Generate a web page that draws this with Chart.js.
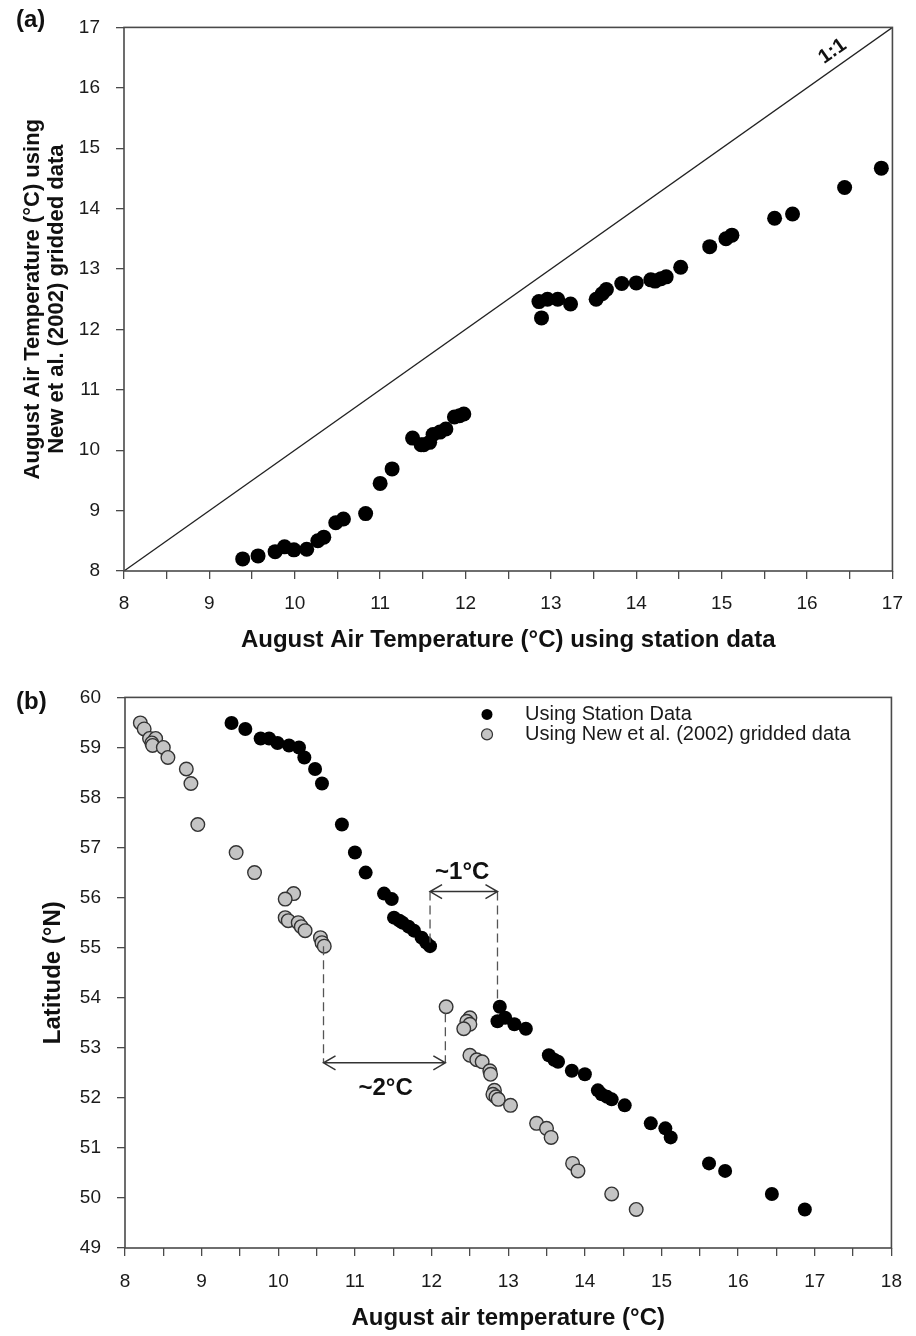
<!DOCTYPE html>
<html><head><meta charset="utf-8">
<script src="https://cdn.jsdelivr.net/npm/chart.js@4.4.1/dist/chart.umd.min.js"></script>
<style>
body{margin:0;background:#fff}
canvas{display:block}
</style></head><body>
<canvas id="chA" width="916" height="670"></canvas>
<canvas id="chB" width="916" height="666"></canvas>
<script>
// One entry per station: August air temp from station data, from New et al. (2002) grid, and latitude
const STN_T=[9.39,9.57,9.77,9.88,9.99,10.14,10.27,10.34,10.48,10.57,10.83,11.00,11.14,11.38,11.48,11.51,11.58,11.62,11.70,11.77,11.87,11.93,11.98,
  12.89,12.96,12.86,13.08,13.23,13.53,13.60,13.65,13.83,14.00,14.17,14.22,14.29,14.35,14.52,14.86,15.05,15.12,15.62,15.83,16.44,16.87];
const GRD_T=[8.20,8.25,8.32,8.40,8.35,8.36,8.50,8.56,8.80,8.86,8.95,9.45,9.69,10.20,10.09,10.09,10.13,10.26,10.30,10.35,10.55,10.57,10.60,
  12.19,12.50,12.46,12.50,12.42,12.50,12.59,12.66,12.76,12.77,12.82,12.80,12.84,12.87,13.03,13.37,13.50,13.56,13.84,13.91,14.35,14.67];
const LAT=[59.49,59.37,59.18,59.18,59.09,59.04,59.00,58.80,58.57,58.28,57.46,56.90,56.50,56.08,55.97,55.60,55.54,55.50,55.42,55.34,55.20,55.10,55.03,
  53.82,53.60,53.53,53.47,53.38,52.85,52.76,52.72,52.54,52.47,52.15,52.07,52.02,51.97,51.85,51.49,51.39,51.21,50.69,50.54,50.08,49.77];

// tick labels
const XT_A=[8,9,10,11,12,13,14,15,16,17];
const YT_A=[8,9,10,11,12,13,14,15,16,17];
const XT_B=[8,9,10,11,12,13,14,15,16,17,18];
const YT_B=[49,50,51,52,53,54,55,56,57,58,59,60];

// 1:1 line ends and where its label sits
const ONE2ONE=[8,17];
const ONE2ONE_LBL=16.4;

// panel (b) annotations: [x1,x2,lat] arrows, [x,latTop,latBottom] dashed drops, [text,x,lat] labels
const ARROWS=[[11.98,12.86,56.12],[10.59,12.18,52.70]];
const DROPS=[[11.98,56.12,55.03],[12.86,56.12,53.88],[10.59,55.03,52.70],[12.18,53.69,52.70]];
const NOTES=[["~1°C",12.40,56.50],["~2°C",11.40,52.19]];

const FONT="'Liberation Sans',Arial,Helvetica,sans-serif";
Chart.defaults.font.family=FONT;
Chart.defaults.color="#1a1a1a";

const frame={id:"frame",afterDraw(c){const a=c.chartArea,x=c.ctx;x.save();x.strokeStyle="#4a4a4a";x.lineWidth=1.6;x.strokeRect(a.left,a.top,a.right-a.left,a.bottom-a.top);x.restore()}};
function tag(t,y){return{id:"tag"+t,afterDraw(c){const x=c.ctx;x.save();x.font="bold 24px "+FONT;x.fillStyle="#111";x.textBaseline="middle";x.fillText(t,16,y);x.restore()}}}

const oneLbl={id:"oneLbl",afterDraw(c){
  const sx=c.scales.x,sy=c.scales.y,x=c.ctx;
  const ang=Math.atan2(sy.getPixelForValue(ONE2ONE[1])-sy.getPixelForValue(ONE2ONE[0]),sx.getPixelForValue(ONE2ONE[1])-sx.getPixelForValue(ONE2ONE[0]));
  x.save();x.translate(sx.getPixelForValue(ONE2ONE_LBL),sy.getPixelForValue(ONE2ONE_LBL));x.rotate(ang);
  x.font="bold 20px "+FONT;x.fillStyle="#111";x.textAlign="center";x.textBaseline="middle";x.fillText("1:1",0,-15);x.restore()}};

const notes={id:"notes",afterDatasetsDraw(c){
  const sx=c.scales.x,sy=c.scales.y,x=c.ctx;
  x.save();
  // dashed drop lines
  x.strokeStyle="#555";x.lineWidth=1.3;x.setLineDash([9,5]);
  DROPS.forEach(([v,a,b])=>{const px=sx.getPixelForValue(v);x.beginPath();x.moveTo(px,sy.getPixelForValue(a));x.lineTo(px,sy.getPixelForValue(b));x.stroke()});
  // double arrows
  x.setLineDash([]);x.strokeStyle="#333";x.lineWidth=1.5;
  ARROWS.forEach(([a,b,l])=>{const p1=sx.getPixelForValue(a),p2=sx.getPixelForValue(b),py=sy.getPixelForValue(l);
    x.beginPath();x.moveTo(p1,py);x.lineTo(p2,py);
    [[p1,1],[p2,-1]].forEach(([p,d])=>{x.moveTo(p+d*12,py-7);x.lineTo(p,py);x.lineTo(p+d*12,py+7)});x.stroke()});
  x.font="bold 24px "+FONT;x.fillStyle="#111";x.textAlign="center";x.textBaseline="middle";
  NOTES.forEach(([t,v,l])=>x.fillText(t,sx.getPixelForValue(v),sy.getPixelForValue(l)));
  x.restore()}};

const leg={id:"leg",afterDraw(c){
  const a=c.chartArea,x=c.ctx;x.save();x.font="20px "+FONT;x.textBaseline="middle";
  c.data.datasets.forEach((d,i)=>{const cx=a.left+362,cy=a.top+17+i*20;
    x.beginPath();x.arc(cx,cy,5.5,0,Math.PI*2);x.fillStyle=d.backgroundColor;x.fill();
    if(d.borderWidth){x.lineWidth=1.2;x.strokeStyle=d.borderColor;x.stroke()}
    x.fillStyle="#1a1a1a";x.fillText(d.label,cx+38,cy)});
  x.restore()}};

function gridOpt(){return{drawOnChartArea:false,tickLength:8,color:"#4a4a4a",lineWidth:1.3}}
function tickOpt(list,step,pad){return{stepSize:step,autoSkip:false,maxRotation:0,padding:pad,font:{size:19},color:"#1a1a1a",callback:v=>list.includes(v)?v:""}}

new Chart(document.getElementById("chA"),{type:"scatter",
  data:{datasets:[
    {label:"Stations",data:STN_T.map((v,i)=>({x:v,y:GRD_T[i]})),pointRadius:7.5,pointHoverRadius:7.5,backgroundColor:"#000",borderColor:"#000",borderWidth:0},
    {label:"1:1",type:"line",data:ONE2ONE.map(v=>({x:v,y:v})),borderColor:"#222",borderWidth:1.3,pointRadius:0}
  ]},
  options:{responsive:false,animation:false,devicePixelRatio:1,
    layout:{padding:{top:17,right:23,left:0,bottom:0}},
    plugins:{legend:{display:false},tooltip:{enabled:false}},
    scales:{
      x:{type:"linear",min:8,max:17,afterFit:s=>{s.height=99},ticks:tickOpt(XT_A,0.5,13),grid:gridOpt(),border:{display:false},
        title:{display:true,text:"August Air Temperature (°C) using station data",color:"#111",font:{size:24,weight:"bold",lineHeight:1},padding:{top:0,bottom:18}}},
      y:{type:"linear",min:8,max:17,afterFit:s=>{s.width=124},ticks:tickOpt(YT_A,1,16),grid:gridOpt(),border:{display:false},
        title:{display:true,text:["August Air Temperature (°C) using","New et al. (2002) gridded data"],color:"#111",font:{size:22,weight:"bold",lineHeight:1.08},padding:{top:21,bottom:0}}}
    }},
  plugins:[frame,oneLbl,tag("(a)",20)]});

new Chart(document.getElementById("chB"),{type:"scatter",
  data:{datasets:[
    {label:"Using Station Data",data:STN_T.map((v,i)=>({x:v,y:LAT[i]})),pointRadius:7,pointHoverRadius:7,backgroundColor:"#000",borderColor:"#000",borderWidth:0},
    {label:"Using New et al. (2002) gridded data",data:GRD_T.map((v,i)=>({x:v,y:LAT[i]})),pointRadius:6.8,pointHoverRadius:6.8,backgroundColor:"#c4c4c4",borderColor:"#333",borderWidth:1.4}
  ]},
  options:{responsive:false,animation:false,devicePixelRatio:1,
    layout:{padding:{top:26,right:23,left:0,bottom:0}},
    plugins:{legend:{display:false},tooltip:{enabled:false}},
    scales:{
      x:{type:"linear",min:8,max:18,afterFit:s=>{s.height=88},ticks:tickOpt(XT_B,0.5,14),grid:gridOpt(),border:{display:false},
        title:{display:true,text:"August air temperature (°C)",color:"#111",font:{size:24,weight:"bold",lineHeight:1},padding:{top:0,bottom:6}}},
      y:{type:"linear",min:49,max:60,afterFit:s=>{s.width=125},ticks:tickOpt(YT_B,1,16),grid:gridOpt(),border:{display:false},
        title:{display:true,text:"Latitude (°N)",color:"#111",font:{size:24,weight:"bold",lineHeight:1},padding:{top:41,bottom:0}}}
    }},
  plugins:[frame,notes,leg,tag("(b)",32)]});
</script>
</body></html>
